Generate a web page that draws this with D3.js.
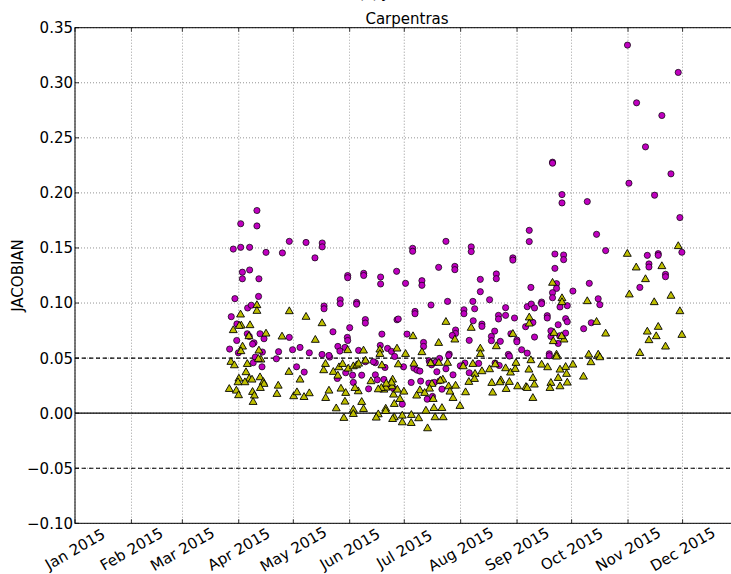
<!DOCTYPE html>
<html>
<head>
<meta charset="utf-8">
<script src="https://cdn.jsdelivr.net/npm/d3@7"></script>
<style>
  html, body { margin: 0; padding: 0; background: #fff; }
  svg { display: block; font-family: "DejaVu Sans", sans-serif; }
</style>
</head>
<body>
<svg id="chart" width="731" height="574"></svg>
<script>
// ---- data (days since 1 Jan 2015, JACOBIAN value) ----
const title = "Carpentras";
const yLabel = "JACOBIAN";
const monthTicks = ["Jan 2015","Feb 2015","Mar 2015","Apr 2015","May 2015","Jun 2015",
                    "Jul 2015","Aug 2015","Sep 2015","Oct 2015","Nov 2015","Dec 2015"];
const yTicks = [-0.10,-0.05,0.00,0.05,0.10,0.15,0.20,0.25,0.30,0.35];

const circleDays = [
100.0,91.1,100.0,117.8,127.0,135.9,135.9,87.0,91.1,96.0,105.0,114.0,131.9,92.0,92.0,96.0,101.1,149.9,149.9,158.7,158.7,
87.9,100.9,94.9,96.9,85.9,89.0,145.8,145.8,154.8,154.8,136.9,136.9,159.6,159.6,151.0,141.8,117.8,101.7,103.9,94.7,95.8,
88.9,98.4,97.6,85.0,89.8,103.0,99.1,111.9,110.7,119.6,123.7,128.8,144.5,145.6,148.4,149.7,149.9,135.8,140.0,139.6,155.9,
121.8,126.0,102.8,148.8,152.6,157.6,159.6,161.4,144.2,153.0,98.0,
203.9,185.6,185.6,217.8,217.8,240.7,240.7,168.0,168.0,176.8,199.9,208.8,208.8,181.7,190.7,190.7,231.6,231.6,222.8,222.8,
227.9,218.7,204.8,195.7,186.9,186.9,177.0,177.7,213.8,213.8,219.7,218.9,232.8,232.8,236.7,236.7,241.6,223.7,223.7,230.7,
228.9,228.9,233.8,239.6,242.9,242.9,209.2,209.2,207.4,216.7,182.5,168.7,191.6,191.6,167.8,171.8,174.0,175.7,205.7,194.7,
195.1,196.0,198.4,198.9,200.4,186.3,188.0,189.6,180.6,170.4,165.1,165.1,166.2,169.8,172.0,175.0,179.9,184.8,190.0,194.5,
197.6,200.6,193.6,196.5,201.7,203.9,205.4,207.8,211.8,214.3,216.7,221.9,230.9,233.2,238.2,238.8,164.0,
303.7,331.6,308.7,322.6,313.6,327.6,262.5,262.5,304.5,318.6,267.7,267.7,281.6,332.5,249.7,249.7,286.7,291.7,333.6,263.8,
263.8,268.6,268.6,314.6,315.5,315.5,320.6,320.6,324.6,324.6,310.5,250.6,282.7,264.7,264.7,262.5,262.5,273.7,287.6,288.5,
256.5,256.5,248.6,250.8,252.6,266.6,270.6,259.6,259.6,269.7,270.6,251.7,265.6,247.7,261.6,261.6,269.7,266.4,265.6,252.6,
279.6,283.8,260.7,260.7,248.6,245.5
];
const circleValues = [
0.184,0.172,0.170,0.156,0.155,0.1545,0.151,0.149,0.1506,0.1506,0.146,0.1455,0.141,0.128,0.122,0.130,0.122,0.125,0.123,0.127,0.125,
0.104,0.106,0.0955,0.098,0.0876,0.081,0.103,0.0994,0.1006,0.099,0.0973,0.0948,0.085,0.0818,0.0776,0.0739,0.0688,0.0721,0.0676,0.0721,0.0697,
0.066,0.0639,0.0627,0.0582,0.0548,0.0555,0.0509,0.0558,0.0494,0.0576,0.0597,0.0548,0.0606,0.0564,0.0597,0.0688,0.066,0.0533,0.0509,0.0524,0.057,
0.0421,0.0373,0.0421,0.0367,0.0345,0.0345,0.0467,0.0221,0.0315,0.0279,0.0458,
0.156,0.1497,0.147,0.151,0.1467,0.141,0.139,0.1236,0.1173,0.1288,0.1324,0.1333,0.1303,0.1179,0.1203,0.1161,0.1264,0.1221,0.1215,0.1103,
0.103,0.1015,0.1015,0.0982,0.0924,0.0903,0.0848,0.0855,0.0939,0.0903,0.0948,0.0839,0.0888,0.0855,0.0958,0.0888,0.0864,0.0809,0.0788,0.0745,
0.0697,0.0658,0.0652,0.0721,0.0664,0.0648,0.0755,0.0724,0.0706,0.0661,0.0718,0.0718,0.0642,0.0606,0.0615,0.0588,0.0561,0.0515,0.0536,0.0476,
0.0458,0.0439,0.0464,0.0376,0.0497,0.0409,0.0391,0.0382,0.0421,0.0415,0.0458,0.0348,0.0303,0.0306,0.0248,0.0224,0.0082,0.0279,0.0291,0.0273,
0.0279,0.0294,0.0127,0.0152,0.0218,0.0403,0.0524,0.0348,0.043,0.0455,0.0367,0.0452,0.0455,0.0433,0.0533,0.0518,0.0467,
0.3342,0.3094,0.2818,0.2703,0.2418,0.2173,0.2279,0.227,0.2088,0.1979,0.1985,0.1909,0.1921,0.1776,0.166,0.1558,0.1624,0.1476,0.1461,0.1445,
0.1315,0.1436,0.1394,0.1433,0.1355,0.1327,0.1448,0.1433,0.1261,0.1239,0.1142,0.1142,0.1179,0.1176,0.1133,0.1094,0.1048,0.1109,0.1039,0.0985,
0.1009,0.0994,0.0967,0.0991,0.0955,0.0964,0.0976,0.0885,0.0864,0.0858,0.083,0.0824,0.0803,0.0785,0.0748,0.0697,0.0727,0.0703,0.0633,0.0691,
0.0767,0.0821,0.0539,0.0521,0.0545,0.0576
];

const triangleDays = [
100.0,100.0,117.8,127.0,135.8,91.0,87.0,91.4,96.2,90.3,105.0,95.6,113.8,132.1,92.1,91.2,101.1,102.2,85.7,87.6,94.7,100.8,
94.0,90.1,95.8,97.3,89.6,93.4,101.7,103.5,103.9,101.9,84.8,88.7,89.9,97.6,98.6,97.9,117.6,123.7,111.7,111.0,120.2,122.0,
125.9,128.8,137.7,136.7,142.0,145.1,144.5,139.6,137.8,149.9,147.1,146.2,148.8,148.4,150.2,153.0,154.8,155.9,158.6,159.7,
155.7,153.9,157.6,158.6,143.6,147.8,153.0,153.0,
203.9,217.8,240.7,185.8,199.9,208.8,222.8,222.8,231.6,190.7,177.0,167.6,167.6,181.7,177.7,186.3,168.7,195.5,200.0,218.7,
213.4,204.8,219.9,223.7,219.6,227.9,231.0,236.7,239.4,242.0,242.4,238.8,243.3,234.1,233.6,237.0,229.1,229.6,216.5,214.7,
205.4,209.2,206.1,207.8,201.7,211.6,202.2,200.8,196.2,194.9,189.6,187.8,192.2,196.9,192.9,197.3,197.9,202.4,188.9,184.9,
184.8,179.9,179.9,175.5,174.6,170.8,170.8,166.7,165.6,193.8,175.5,178.6,180.8,175.1,177.2,174.2,174.6,174.0,169.8,170.9,
168.4,166.7,171.1,162.7,
331.6,303.6,308.5,322.6,313.6,304.7,327.6,318.4,332.5,333.6,314.6,315.5,320.6,319.5,324.6,310.5,281.6,286.7,291.7,282.4,
283.6,287.6,288.5,279.5,262.5,267.7,267.7,249.7,249.7,273.7,269.7,270.2,270.6,266.6,265.6,266.6,261.6,261.1,264.7,264.7,
263.3,262.9,268.8,267.5,256.5,259.8,251.7,251.7,252.5,247.9,248.6,249.5,250.6
];
const triangleValues = [
0.0979,0.0927,0.0924,0.0873,0.0815,0.0894,0.0752,0.0794,0.0797,0.0791,0.0721,0.0697,0.0694,0.0664,0.0603,0.0561,0.0567,0.0485,0.0464,0.0433,0.0445,0.0491,
0.037,0.0312,0.0312,0.0303,0.0279,0.0279,0.0324,0.0282,0.0264,0.0227,0.0218,0.0203,0.0161,0.0191,0.0158,0.01,0.0373,0.0303,0.0248,0.0173,0.0152,0.0188,
0.0145,0.0179,0.0445,0.0388,0.0373,0.0415,0.0339,0.0203,0.0136,0.057,0.0445,0.0221,0.0182,0.0103,0.0403,0.0424,0.0433,0.0448,0.0567,0.0476,
0.0197,0.0227,0.01,0.0036,0.0042,-0.0045,0.003,-0.0009,
0.0827,0.0773,0.0718,0.0697,0.0636,0.0667,0.0585,0.0536,0.0606,0.0552,0.0585,0.0576,0.0536,0.0536,0.0442,0.0448,0.0433,0.0452,0.0455,0.0445,
0.0424,0.0455,0.0355,0.0379,0.0309,0.0397,0.0442,0.0406,0.0367,0.04,0.0455,0.0282,0.0242,0.0297,0.0279,0.0218,0.0273,0.0185,0.0282,0.0188,
0.0242,0.0248,0.0194,0.0136,0.0045,0.0064,0.0303,0.0294,0.0264,0.0221,0.0206,0.0158,0.0182,0.0127,0.0021,0.0045,-0.0039,-0.0039,-0.0048,-0.0018,
-0.0091,-0.0024,-0.0085,-0.0039,-0.0055,0.0039,0.0018,-0.0012,-0.0042,-0.0139,0.0082,0.0127,0.0194,0.0167,0.0212,0.0242,0.0303,0.0276,0.0212,0.023,
0.0227,0.0215,0.0267,0.0288,
0.1515,0.1445,0.1321,0.1333,0.1215,0.1076,0.1064,0.1006,0.0924,0.0709,0.0739,0.0661,0.0782,0.0697,0.0603,0.0545,0.1015,0.0827,0.0721,0.053,
0.0461,0.053,0.0506,0.033,0.1182,0.1042,0.1006,0.0867,0.0812,0.0439,0.0418,0.0355,0.0276,0.0394,0.0318,0.0242,0.0273,0.0227,0.053,0.0512,
0.0727,0.0652,0.0667,0.0697,0.0439,0.0415,0.0318,0.0136,0.0258,0.0236,0.0227,0.0394,0.0479
];
const refDashed = [-0.05, 0.05];
const refSolid = [0.0];

// ---- layout ----
const W = 731, H = 574;
const L = 75, R = 739, T = 27.7, B = 523.3;
const svg = d3.select("#chart");
const start = new Date(Date.UTC(2015, 0, 1));
const end = new Date(Date.UTC(2016, 0, 1));
const dayToDate = d => new Date(start.getTime() + d * 86400000);

const x = d3.scaleUtc().domain([start, end]).range([L, R]);
const y = d3.scaleLinear().domain([-0.10, 0.35]).range([B, T]);
const monthDates = monthTicks.map((_, i) => new Date(Date.UTC(2015, i, 1)));

const g = svg.append("g");

// grid
g.selectAll(".gy").data(yTicks).enter().append("line")
  .attr("x1", L).attr("x2", R).attr("y1", d => y(d)).attr("y2", d => y(d))
  .attr("stroke", "#000").attr("stroke-width", 0.6).attr("stroke-dasharray", "1,2").attr("opacity", 0.7);
g.selectAll(".gx").data(monthDates).enter().append("line")
  .attr("x1", d => x(d)).attr("x2", d => x(d)).attr("y1", T).attr("y2", B)
  .attr("stroke", "#000").attr("stroke-width", 0.6).attr("stroke-dasharray", "1,2").attr("opacity", 0.7);

// reference lines
g.selectAll(".rs").data(refSolid).enter().append("line")
  .attr("x1", L).attr("x2", R).attr("y1", d => y(d)).attr("y2", d => y(d))
  .attr("stroke", "#000").attr("stroke-width", 1.2);
g.selectAll(".rd").data(refDashed).enter().append("line")
  .attr("x1", L).attr("x2", R).attr("y1", d => y(d)).attr("y2", d => y(d))
  .attr("stroke", "#000").attr("stroke-width", 1.1).attr("stroke-dasharray", "4,3");

// markers
const circles = circleDays.map((d, i) => ({ date: dayToDate(d), v: circleValues[i] }));
const tris = triangleDays.map((d, i) => ({ date: dayToDate(d), v: triangleValues[i] }));

g.selectAll(".c").data(circles).enter().append("circle")
  .attr("cx", d => x(d.date)).attr("cy", d => y(d.v)).attr("r", 3.1)
  .attr("fill", "#bf00bf").attr("stroke", "#000").attr("stroke-width", 0.7);

const triPath = d3.symbol().type(d3.symbolTriangle).size(27)();
g.selectAll(".t").data(tris).enter().append("path")
  .attr("d", triPath)
  .attr("transform", d => `translate(${x(d.date)},${y(d.v)})`)
  .attr("fill", "#bfbf00").attr("stroke", "#000").attr("stroke-width", 0.9);

// frame
g.append("rect").attr("x", L).attr("y", T).attr("width", R - L).attr("height", B - T)
  .attr("fill", "none").attr("stroke", "#000").attr("stroke-width", 1);

// inward ticks
g.selectAll(".ty").data(yTicks).enter().append("line")
  .attr("x1", L).attr("x2", L + 4).attr("y1", d => y(d)).attr("y2", d => y(d))
  .attr("stroke", "#000").attr("stroke-width", 0.8);
g.selectAll(".tb").data(monthDates).enter().append("line")
  .attr("x1", d => x(d)).attr("x2", d => x(d)).attr("y1", B).attr("y2", B - 4)
  .attr("stroke", "#000").attr("stroke-width", 0.8);
g.selectAll(".tt").data(monthDates).enter().append("line")
  .attr("x1", d => x(d)).attr("x2", d => x(d)).attr("y1", T).attr("y2", T + 4)
  .attr("stroke", "#000").attr("stroke-width", 0.8);

// y tick labels
const fmt = d3.format(".2f");
g.selectAll(".ly").data(yTicks).enter().append("text")
  .attr("x", L - 2).attr("y", d => y(d)).attr("dy", "0.36em")
  .attr("text-anchor", "end").attr("font-size", 15).attr("fill", "#000")
  .text(d => fmt(d));

// x tick labels (rotated 30°, centred on tick)
g.selectAll(".lx").data(monthDates).enter().append("text")
  .attr("transform", d => `translate(${x(d)},549) rotate(-30)`)
  .attr("text-anchor", "middle").attr("dy", "0.36em")
  .attr("font-size", 15).attr("fill", "#000")
  .text((d, i) => monthTicks[i]);

// y label
svg.append("text").attr("transform", `translate(23,${(T + B) / 2}) rotate(-90)`)
  .attr("text-anchor", "middle").attr("font-size", 15).attr("fill", "#000").text(yLabel);

// title
svg.append("text").attr("x", (L + R) / 2).attr("y", 24)
  .attr("text-anchor", "middle").attr("font-size", 15).attr("fill", "#000").text(title);

// partially visible super-title at top edge
svg.append("text").attr("x", (L + R) / 2).attr("y", -2)
  .attr("text-anchor", "middle").attr("font-size", 15).attr("fill", "#000").text("(c) JACOBIAN");
</script>
</body>
</html>
